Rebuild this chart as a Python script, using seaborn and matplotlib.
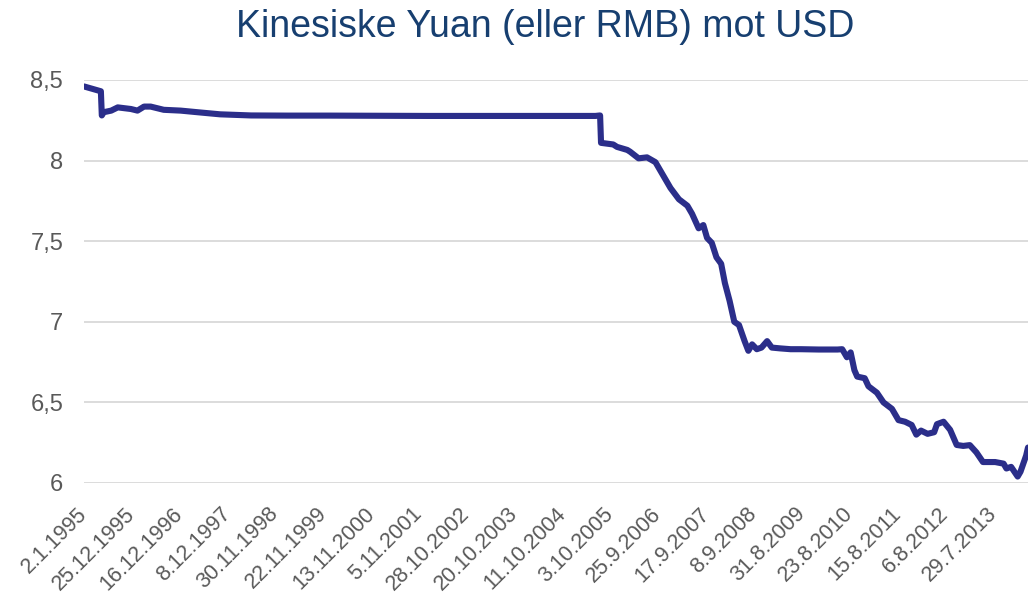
import pandas as pd
import matplotlib
matplotlib.use("Agg")
import matplotlib.pyplot as plt
import seaborn as sns

dates = [
    "1995-01-02", "1995-05-08", "1995-05-15", "1995-05-29", "1995-07-24",
    "1995-09-11", "1995-12-18", "1996-02-05", "1996-03-25", "1996-05-13",
    "1996-08-19", "1996-12-23", "1997-04-28", "1997-10-13", "1998-06-01",
    "1999-03-01", "2000-01-03", "2001-01-01", "2002-01-07", "2003-01-06",
    "2004-01-05", "2005-01-03", "2005-06-13", "2005-07-18", "2005-07-25",
    "2005-10-24", "2005-11-21", "2006-02-06", "2006-02-27", "2006-05-01",
    "2006-07-03", "2006-09-04", "2006-10-23", "2006-12-25", "2007-02-26",
    "2007-04-30", "2007-06-04", "2007-07-23", "2007-08-27", "2007-09-24",
    "2007-10-29", "2007-12-03", "2008-01-07", "2008-02-04", "2008-03-10",
    "2008-04-14", "2008-05-19", "2008-06-30", "2008-07-28", "2008-08-25",
    "2008-09-29", "2008-11-03", "2008-12-15", "2009-01-19", "2009-03-23",
    "2009-06-08", "2009-08-24", "2010-01-04", "2010-05-24", "2010-06-28",
    "2010-08-02", "2010-08-30", "2010-09-27", "2010-10-18", "2010-12-13",
    "2011-01-10", "2011-03-14", "2011-05-02", "2011-07-04", "2011-08-22",
    "2011-10-10", "2011-11-28", "2012-01-02", "2012-02-06", "2012-03-26",
    "2012-05-14", "2012-06-04", "2012-07-23", "2012-09-10", "2012-10-29",
    "2012-12-17", "2013-02-04", "2013-03-25", "2013-05-13", "2013-08-12",
    "2013-10-14", "2013-11-04", "2013-12-09", "2014-01-27", "2014-02-17",
    "2014-03-31", "2014-04-14",
]
rates = [
    8.46, 8.43, 8.28, 8.30, 8.31,
    8.33, 8.32, 8.31, 8.335, 8.335,
    8.315, 8.31, 8.30, 8.287, 8.28,
    8.279, 8.279, 8.278, 8.277, 8.277,
    8.277, 8.277, 8.277, 8.28, 8.11,
    8.10, 8.085, 8.066, 8.055, 8.014,
    8.02, 7.99, 7.92, 7.83, 7.76,
    7.72, 7.67, 7.58, 7.60, 7.52,
    7.49, 7.40, 7.36, 7.24, 7.13,
    7.00, 6.98, 6.88, 6.82, 6.86,
    6.83, 6.84, 6.88, 6.84, 6.835,
    6.83, 6.83, 6.828, 6.828, 6.83,
    6.78, 6.81, 6.70, 6.66, 6.65,
    6.60, 6.56, 6.50, 6.46, 6.39,
    6.38, 6.36, 6.30, 6.325, 6.305,
    6.315, 6.365, 6.38, 6.33, 6.236,
    6.23, 6.235, 6.19, 6.13, 6.13,
    6.12, 6.09, 6.10, 6.04, 6.07,
    6.17, 6.22,
]

y_ticks = [6, 6.5, 7, 7.5, 8, 8.5]
y_tick_labels = ["6", "6,5", "7", "7,5", "8", "8,5"]
title = "Kinesiske Yuan (eller RMB) mot USD"

df = pd.DataFrame({"dato": pd.to_datetime(dates), "kurs": rates})

sns.set_theme(style="white")
plt.rcParams["font.family"] = ["Liberation Sans", "DejaVu Sans"]

fig = plt.figure(figsize=(10.28, 5.96), dpi=100)
ax = fig.add_axes([0.0817, 0.1896, 0.9183, 0.6762])

sns.lineplot(data=df, x="dato", y="kurs", ax=ax, color="#2b2e8a", linewidth=4.4)

# x ticks every 51 weeks, like the category axis in the original
start = df["dato"].iloc[0]
end = df["dato"].iloc[-1]
tick_dates = pd.date_range(start, end, freq="357D")
ax.set_xticks(tick_dates)
ax.set_xticklabels([f"{d.day}.{d.month}.{d.year}" for d in tick_dates],
                   rotation=45, ha="right", va="center", rotation_mode="anchor",
                   fontsize=15.5, color="#595959")
ax.set_xlim(start, end)

ax.set_ylim(6, 8.5)
ax.set_yticks(y_ticks)
ax.set_yticklabels(y_tick_labels, fontsize=17, color="#595959")

ax.grid(axis="y", color="#d9d9d9", linewidth=1.3)
ax.set_axisbelow(True)
for s in ax.spines.values():
    s.set_visible(False)
ax.tick_params(axis="both", length=0)
ax.tick_params(axis="x", pad=20)
ax.tick_params(axis="y", pad=15)
ax.set_xlabel("")
ax.set_ylabel("")

fig.suptitle(title, x=0.53, y=0.985, fontsize=27, color="#173f70")

fig.savefig("out.png", dpi=100)
